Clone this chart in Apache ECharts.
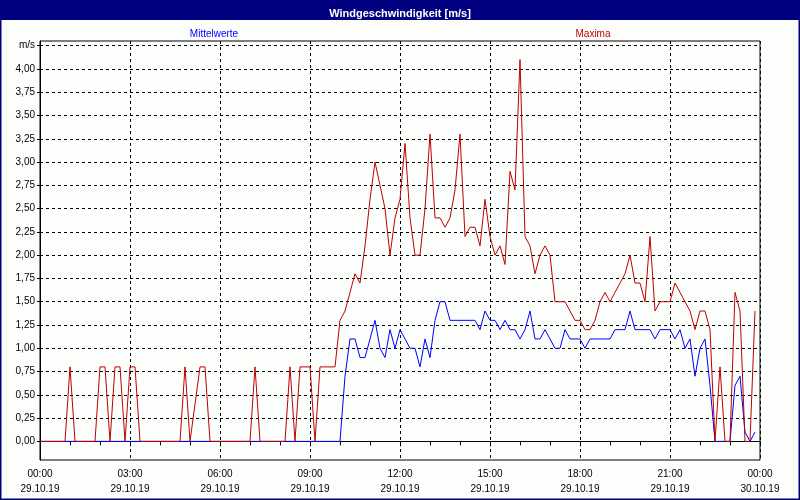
<!DOCTYPE html>
<html>
<head>
<meta charset="utf-8">
<script src="https://cdn.jsdelivr.net/npm/echarts@6/dist/echarts.min.js"></script>
<style>
html,body{margin:0;padding:0;background:#fcfefc;}
#chart{width:800px;height:500px;}
</style>
</head>
<body>
<div id="chart"></div>
<script>
// 10-minute samples starting 29.10.19 00:00
const stepMinutes = 10;
const mittelwerte = [
  0,0,0,0,0,0,0,0,0,0, 0,0,0,0,0,0,0,0,0,0,
  0,0,0,0,0,0,0,0,0,0, 0,0,0,0,0,0,0,0,0,0,
  0,0,0,0,0,0,0,0,0,0, 0,0,0,0,0,0,0,0,0,0,
  0,0.7,1.1,1.1,0.9,0.9,1.1,1.3,1.0,0.9,
  1.2,1.0,1.2,1.1,1.0,1.0,0.8,1.1,0.9,1.3,
  1.5,1.5,1.3,1.3,1.3,1.3,1.3,1.3,1.2,1.4,
  1.3,1.3,1.2,1.3,1.2,1.2,1.1,1.2,1.4,1.1,
  1.1,1.2,1.1,1.0,1.0,1.2,1.1,1.1,1.1,1.0,
  1.1,1.1,1.1,1.1,1.1,1.2,1.2,1.2,1.4,1.2,
  1.2,1.2,1.2,1.1,1.2,1.2,1.2,1.1,1.2,1.0,
  1.1,0.7,1.0,1.1,0.6,0,0,0,0,0.6,
  0.7,0.1,0,0.1
];
const maxima = [
  0,0,0,0,0,0,0.8,0,0,0, 0,0,0.8,0.8,0,0.8,0.8,0,0.8,0.8,
  0,0,0,0,0,0,0,0,0,0.8, 0,0.4,0.8,0.8,0,0,0,0,0,0,
  0,0,0,0.8,0,0,0,0,0,0, 0.8,0,0.8,0.8,0.8,0,0.8,0.8,0.8,0.8,
  1.3,1.4,1.6,1.8,1.7,2.1,2.6,3.0,2.75,2.5,
  2.0,2.4,2.6,3.2,2.4,2.0,2.0,2.5,3.3,2.4,
  2.4,2.3,2.4,2.7,3.3,2.2,2.3,2.3,2.1,2.6,
  2.2,2.0,2.1,1.9,2.9,2.7,4.1,2.2,2.1,1.8,
  2.0,2.1,2.0,1.5,1.5,1.5,1.4,1.3,1.3,1.2,
  1.2,1.3,1.5,1.6,1.5,1.6,1.7,1.8,2.0,1.7,
  1.7,1.5,2.2,1.4,1.5,1.5,1.5,1.7,1.6,1.5,
  1.4,1.2,1.4,1.4,1.2,0,0.8,0,0,1.6,
  1.4,0,0,1.4
];
const yTicks = [0,0.25,0.5,0.75,1,1.25,1.5,1.75,2,2.25,2.5,2.75,3,3.25,3.5,3.75,4,4.25];
const xTickHours = [0,3,6,9,12,15,18,21,24];
const xTickLabels = ['00:00\n29.10.19','03:00\n29.10.19','06:00\n29.10.19','09:00\n29.10.19','12:00\n29.10.19','15:00\n29.10.19','18:00\n29.10.19','21:00\n29.10.19','00:00\n30.10.19'];
const titleText = 'Windgeschwindigkeit [m/s]';
const unitLabel = 'm/s';

const toPts = arr => arr.map((v, i) => [i * stepMinutes / 60, v]);
const font = 'Liberation Sans';

const chart = echarts.init(document.getElementById('chart'));
chart.setOption({
  animation: false,
  backgroundColor: '#fcfefc',
  textStyle: { fontFamily: font },
  title: [
    { text: titleText, left: 'center', top: 3, textStyle: { color: '#ffffff', fontSize: 11, fontWeight: 'bold', fontFamily: font } },
    { text: 'Mittelwerte', left: 209, top: 24, textAlign: 'center', textStyle: { color: '#0000ff', fontSize: 10, fontWeight: 'normal', fontFamily: font } },
    { text: 'Maxima', left: 588, top: 24, textAlign: 'center', textStyle: { color: '#c00000', fontSize: 10, fontWeight: 'normal', fontFamily: font } }
  ],
  graphic: [
    { type: 'rect', z: -10, shape: { x: 0, y: 0, width: 800, height: 20 }, style: { fill: '#000080' } },
    { type: 'rect', z: 100, shape: { x: 0, y: 0, width: 800, height: 500 }, style: { fill: 'none', stroke: '#000080', lineWidth: 3 } }
  ],
  grid: { left: 40, right: 40, top: 41, bottom: 40, show: true, borderColor: '#000', borderWidth: 1, backgroundColor: 'transparent' },
  xAxis: {
    type: 'value', min: 0, max: 24, interval: 3,
    axisLine: { show: true, lineStyle: { color: '#000', width: 1 } },
    axisTick: { show: true, length: 5, lineStyle: { color: '#000' } },
    minorTick: { show: true, splitNumber: 3, length: 4, lineStyle: { color: '#000' } },
    splitLine: { show: true, lineStyle: { color: '#000', type: [3, 3], width: 1 } },
    axisLabel: {
      color: '#000', fontSize: 10, lineHeight: 15, margin: 7, fontFamily: font,
      formatter: v => { const k = xTickHours.indexOf(v); return k >= 0 ? xTickLabels[k] : ''; }
    }
  },
  yAxis: {
    type: 'value', min: -0.2, max: 4.3,
    axisLine: { show: true, lineStyle: { color: '#000', width: 1 } },
    axisTick: { show: true, length: 3, customValues: yTicks, lineStyle: { color: '#000' } },
    splitLine: { show: true, lineStyle: { color: '#000', type: [3, 3], width: 1 } },
    axisLabel: {
      customValues: yTicks, color: '#000', fontSize: 10, margin: 5, fontFamily: font,
      formatter: v => v > 4.2 ? unitLabel : v.toFixed(2).replace('.', ',')
    }
  },
  series: [
    { name: 'Mittelwerte', type: 'line', data: toPts(mittelwerte), showSymbol: false, symbol: 'none',
      lineStyle: { color: '#0000ff', width: 1 }, itemStyle: { color: '#0000ff' }, z: 2 },
    { name: 'Maxima', type: 'line', data: toPts(maxima), showSymbol: false, symbol: 'none',
      lineStyle: { color: '#c00000', width: 1 }, itemStyle: { color: '#c00000' }, z: 3 }
  ]
});
</script>
</body>
</html>
